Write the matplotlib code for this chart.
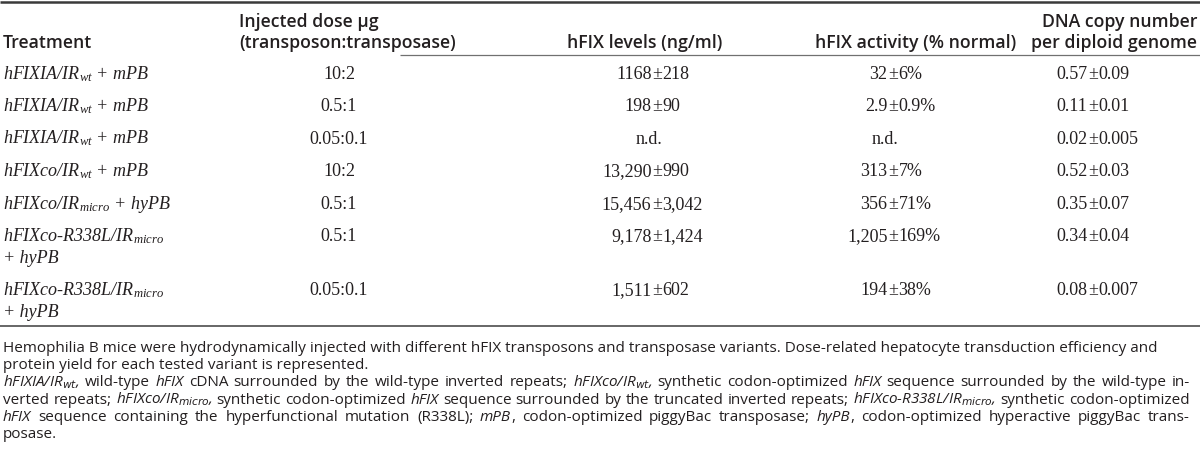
import re
import matplotlib
matplotlib.use("Agg")
import matplotlib.pyplot as plt
from matplotlib.lines import Line2D

# Mise en page en pixels (1200 x 460)
W, H = 1200, 460

# Données du tableau
header_cols = ["Treatment", "Injected dose μg\n(transposon:transposase)", "hFIX levels (ng/ml)",
               "hFIX activity (% normal)", "DNA copy number\nper diploid genome"]
treatments = [
    "hFIXIA/IR$_{wt}$ + mPB",
    "hFIXIA/IR$_{wt}$ + mPB",
    "hFIXIA/IR$_{wt}$ + mPB",
    "hFIXco/IR$_{wt}$ + mPB",
    "hFIXco/IR$_{micro}$ + hyPB",
    "hFIXco-R338L/IR$_{micro}$\n+ hyPB",
    "hFIXco-R338L/IR$_{micro}$\n+ hyPB",
]
doses = ["10:2", "0.5:1", "0.05:0.1", "10:2", "0.5:1", "0.5:1", "0.05:0.1"]
levels = ["1168±218", "198±90", "n.d.", "13,290±990", "15,456±3,042", "9,178±1,424", "1,511±602"]
activity = ["32±6%", "2.9±0.9%", "n.d.", "313±7%", "356±71%", "1,205±169%", "194±38%"]
copies = ["0.57±0.09", "0.11±0.01", "0.02±0.005", "0.52±0.03", "0.35±0.07", "0.34±0.04", "0.08±0.007"]

# Note de bas de tableau (*...* = italique), booléen = ligne justifiée
footnote = [
    ("Hemophilia B mice were hydrodynamically injected with different hFIX transposons and transposase "
     "variants. Dose-related hepatocyte transduction efficiency and", False),
    ("protein yield for each tested variant is represented.", False),
    ("*hFIXIA/IR$_{wt}$,* wild-type *hFIX* cDNA surrounded by the wild-type inverted repeats; "
     "*hFIXco/IR$_{wt}$,* synthetic codon-optimized *hFIX* sequence surrounded by the wild-type in-", True),
    ("verted repeats; *hFIXco/IR$_{micro}$,* synthetic codon-optimized *hFIX* sequence surrounded by the "
     "truncated inverted repeats; *hFIXco-R338L/IR$_{micro}$,* synthetic codon-optimized", True),
    ("*hFIX* sequence containing the hyperfunctional mutation (R338L); *mPB*, codon-optimized piggyBac "
     "transposase; *hyPB*, codon-optimized hyperactive piggyBac trans-", True),
    ("posase.", False),
]

plt.rcParams['mathtext.fontset'] = 'custom'
plt.rcParams['mathtext.it'] = 'Liberation Serif:italic'
plt.rcParams['mathtext.rm'] = 'Liberation Serif'

INK = '#231f20'
HEAD = dict(family='Open Sans', weight='semibold', size=12.7, color=INK)
BODY = dict(family='Liberation Serif', size=13.0, color=INK)
NOTE = dict(family='Open Sans', size=11.0, color=INK)

fig = plt.figure(figsize=(W / 100, H / 100), dpi=100)
renderer = fig.canvas.get_renderer()


def txt(x, y, s, **kw):
    return fig.text(x / W, 1 - y / H, s, va='baseline', **kw)


def hline(y, x0, x1, lw, color):
    fig.add_artist(Line2D([x0 / W, x1 / W], [1 - y / H] * 2, transform=fig.transFigure,
                          lw=lw, color=color, solid_capstyle='butt'))


def width(t):
    return t.get_window_extent(renderer).width


# Filets
hline(3, 0, W, 1.8, '#3a3a3a')
hline(56, 400, W, 0.9, '#707070')
hline(327, 0, W, 1.3, '#5a5a5a')

# En-têtes
txt(3, 48, header_cols[0], ha='left', **HEAD)
dose_head = header_cols[1].split('\n')
txt(239, 27, dose_head[0], ha='left', **HEAD)
txt(239, 48, dose_head[1], ha='left', **HEAD)
txt(645, 48, header_cols[2], ha='center', **HEAD)
txt(916, 48, header_cols[3], ha='center', **HEAD)
dna_head = header_cols[4].split('\n')
txt(1197, 27, dna_head[0], ha='right', **HEAD)
txt(1197, 48, dna_head[1], ha='right', **HEAD)

# Lignes du tableau
row_h, line_d, top, offset = 32.4, 22, 56, 23


def pm_cell(x, y, s):
    # alignement sur le signe ±
    if '±' not in s:
        txt(x - 8, y, s, ha='center', **BODY)
        return
    left, right = s.split('±')
    txt(x - 5.5, y, left, ha='right', **BODY)
    txt(x, y, '±', ha='center', **BODY)
    txt(x + 5.5, y, right, ha='left', **BODY)


row_top = top
for i in range(len(treatments)):
    lines = treatments[i].split('\n')
    base = row_top + offset
    for k, ln in enumerate(lines):
        txt(3, base + k * line_d, ln, ha='left', style='italic', **BODY)
    txt(339, base, doses[i], ha='center', **BODY)
    pm_cell(657, base, levels[i])
    pm_cell(893, base, activity[i])
    pm_cell(1093, base, copies[i])
    row_top += row_h + (len(lines) - 1) * line_d


# Note : lignes justifiées posées mot par mot
def note_line(y, line, justify, x0=3, x1=1190):
    if not justify:
        txt(x0, y, line, ha='left', **NOTE)
        return
    words = []
    for w in line.split(' '):
        parts = []
        for seg in re.split(r'(\*[^*]+\*)', w):
            if not seg:
                continue
            it = seg.startswith('*') and seg.endswith('*')
            t = txt(0, y, seg.strip('*'), ha='left', style='italic' if it else 'normal', **NOTE)
            t.set_math_fontfamily('dejavusans')
            parts.append(t)
        words.append(parts)
    widths = [sum(width(t) for t in p) for p in words]
    space = (x1 - x0 - sum(widths)) / (len(words) - 1)
    x = x0
    for p, wd in zip(words, widths):
        xx = x
        for t in p:
            t.set_x(xx / W)
            xx += width(t)
        x += wd + space


for j, (ln, just) in enumerate(footnote):
    note_line(352 + j * 17.2, ln, just)

fig.savefig('out.png', dpi=100)
